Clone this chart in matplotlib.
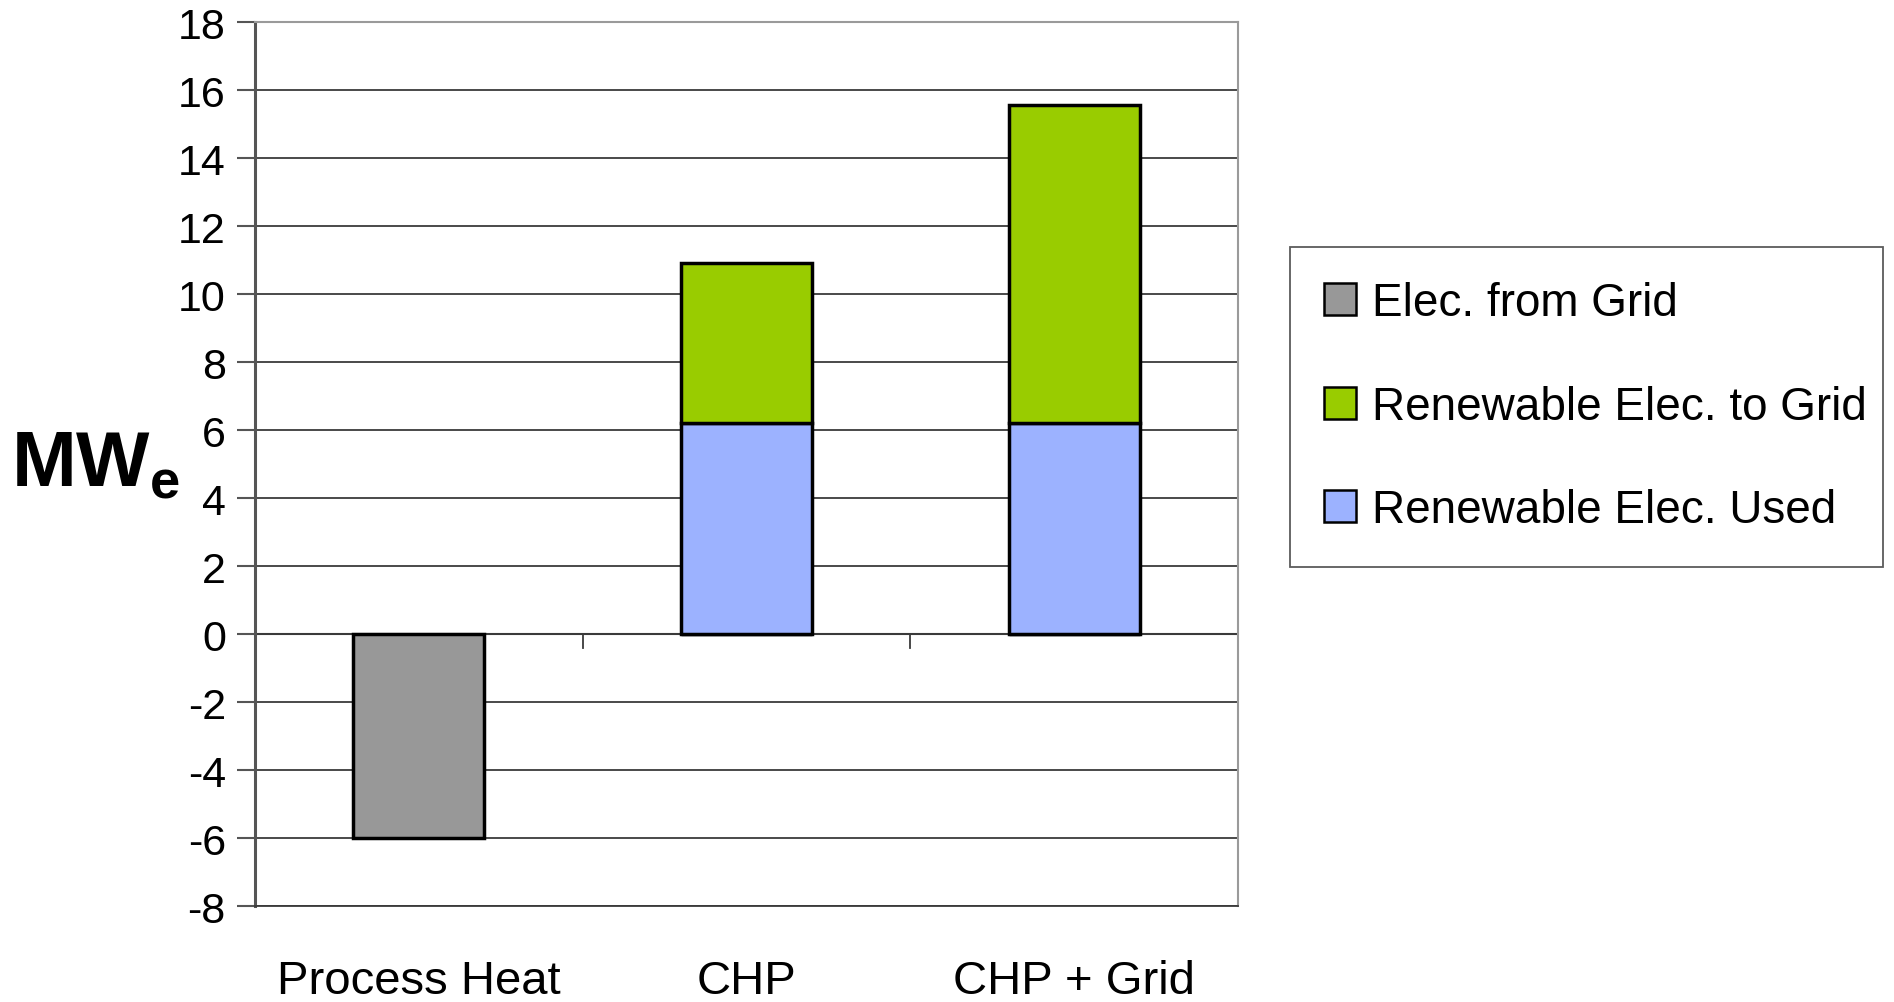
import numpy as np
import matplotlib.pyplot as plt
from matplotlib.patches import Patch

plt.rcParams['font.family'] = ['Liberation Sans', 'DejaVu Sans']
plt.rcParams['mathtext.fontset'] = 'custom'
plt.rcParams['mathtext.bf'] = 'Liberation Sans:bold'
plt.rcParams['mathtext.rm'] = 'Liberation Sans'

categories = ['Process Heat', 'CHP', 'CHP + Grid']
elec_from_grid = [-6.0, 0.0, 0.0]
renew_used = [0.0, 6.2, 6.2]
renew_to_grid = [0.0, 4.7, 9.35]
series_names = ['Elec. from Grid', 'Renewable Elec. to Grid', 'Renewable Elec. Used']
yticks = list(range(-8, 19, 2))

gray = '#989898'
green = '#99cc00'
blue = '#9cb2ff'

fig = plt.figure(figsize=(18.94, 10.03), dpi=100)
ax = fig.add_axes([0.1346, 0.0957, 0.519, 0.8813])

x = np.arange(len(categories))
w = 0.4
ax.bar(x, elec_from_grid, w, color=gray, edgecolor='black', linewidth=2.5, zorder=3)
ax.bar(x[1:], renew_used[1:], w, color=blue, edgecolor='black', linewidth=2.5, zorder=3)
ax.bar(x[1:], renew_to_grid[1:], w, bottom=renew_used[1:], color=green,
       edgecolor='black', linewidth=2.5, zorder=3)

ax.set_xlim(-0.5, 2.5)
ax.set_ylim(-8, 18)
ax.set_yticks(yticks)
ax.set_yticklabels([str(t) for t in yticks], fontsize=31)
for t in yticks:
    ax.axhline(t, color='#3a3a3a', lw=1.3, zorder=1)

# zero line with category separators
ax.axhline(0, color='#3a3a3a', lw=1.5, zorder=2)
for xb in [0.5, 1.5, 2.5]:
    ax.plot([xb, xb], [0, -0.4], color='#3a3a3a', lw=1.3, clip_on=False, zorder=2)

ax.set_xticks(x)
ax.set_xticklabels(categories, fontsize=34)
ax.tick_params(axis='x', length=0, pad=38)
ax.tick_params(axis='y', length=13, width=1.5, color='#555555', pad=8)

ax.spines['left'].set_color('#555555')
ax.spines['left'].set_linewidth(2.2)
for s in ['top', 'right']:
    ax.spines[s].set_color('#9a9a9a')
    ax.spines[s].set_linewidth(1.5)
ax.spines['bottom'].set_color('#3a3a3a')
ax.spines['bottom'].set_linewidth(1.3)

fig.text(0.006, 0.535, r'$\mathbf{MW}_\mathbf{e}$', fontsize=56,
         ha='left', va='center')

handles = [Patch(facecolor=gray, edgecolor='black', lw=1.8),
           Patch(facecolor=green, edgecolor='black', lw=1.8),
           Patch(facecolor=blue, edgecolor='black', lw=1.8)]
leg = fig.legend(handles, series_names, loc='upper left',
                 bbox_to_anchor=(0.681, 0.438, 0.313, 0.315), mode='expand',
                 fontsize=33, frameon=True, fancybox=False, handlelength=0.7,
                 handleheight=0.7, handletextpad=0.35, labelspacing=1.3,
                 borderpad=0.75, borderaxespad=0)
leg.get_frame().set_edgecolor('#333333')
leg.get_frame().set_linewidth(1.3)

fig.savefig('out.png', dpi=100)
